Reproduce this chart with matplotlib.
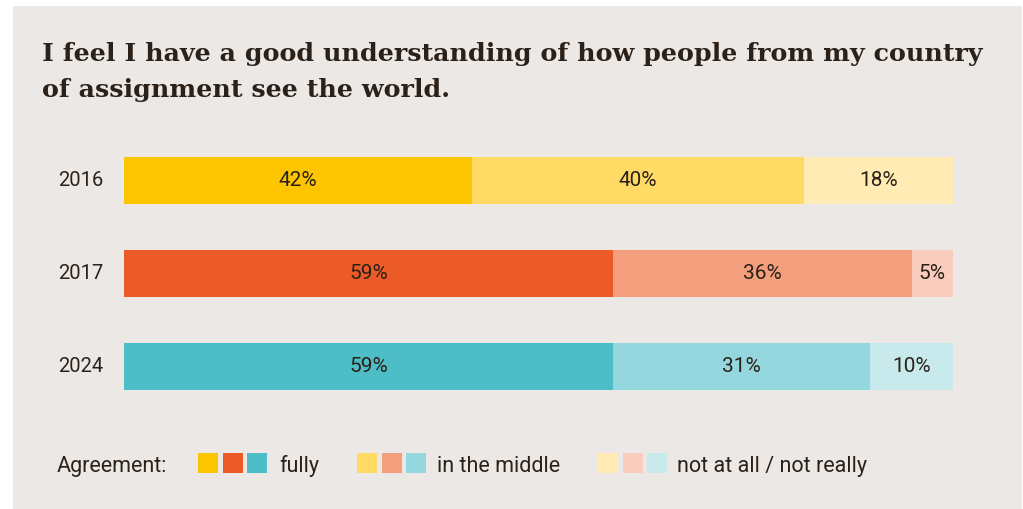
import matplotlib
matplotlib.use("Agg")
from matplotlib import pyplot as plt
from matplotlib.patches import Rectangle

years = ["2016", "2017", "2024"]
fully = [42, 59, 59]
middle = [40, 36, 31]
not_really = [18, 5, 10]
labels = ["fully", "in the middle", "not at all / not really"]

# colours per year: strong, medium, light
colors_fully = ["#FDC500", "#EC5B27", "#4DBEC7"]
colors_middle = ["#FFDB66", "#F39E7D", "#95D7DE"]
colors_not = ["#FFEBB3", "#F8CDBE", "#C8EAEC"]

W, H = 1023, 509
bg = "#ECE8E5"
txt = "#2B2118"

plt.rcParams["font.family"] = ["Roboto", "DejaVu Sans"]

fig = plt.figure(figsize=(W / 100, H / 100), dpi=100)
fig.patch.set_facecolor("white")

def fx(px):
    return px / W

def fy(py):
    return 1 - py / H

# beige panel
fig.patches.append(Rectangle((fx(13), 0), fx(1022) - fx(13), fy(6), transform=fig.transFigure,
                             facecolor=bg, edgecolor="none", zorder=-5))

# title
fig.text(fx(42), fy(61), "I feel I have a good understanding of how people from my country",
         fontsize=18.3, fontweight="bold", family="DejaVu Serif", color=txt, va="baseline")
fig.text(fx(42), fy(97), "of assignment see the world.",
         fontsize=18.3, fontweight="bold", family="DejaVu Serif", color=txt, va="baseline")

# bars
ax = fig.add_axes([fx(124), fy(390), fx(953) - fx(124), fy(157) - fy(390)])
ax.set_facecolor("none")
ax.set_zorder(2)
h = 47 / 93
pad = h / 2
ypos = list(range(len(years)))
ax.barh(ypos, fully, height=h, color=colors_fully)
ax.barh(ypos, middle, left=fully, height=h, color=colors_middle)
left3 = [a + b for a, b in zip(fully, middle)]
ax.barh(ypos, not_really, left=left3, height=h, color=colors_not)
ax.set_xlim(0, 100)
ax.set_ylim(len(years) - 1 + pad, -pad)
ax.axis("off")

for i in ypos:
    starts = [0, fully[i], left3[i]]
    vals = [fully[i], middle[i], not_really[i]]
    for s, v in zip(starts, vals):
        ax.text(s + v / 2, i, f"{v}%", ha="center", va="center", fontsize=15, color=txt)
    ax.text(-2.5, i, years[i], ha="right", va="center", fontsize=14.5, color=txt, clip_on=False)

# legend
ly = 472
fig.text(fx(57), fy(ly), "Agreement:", fontsize=15.5, color=txt, va="baseline")
groups = [(198, colors_fully, 279), (357, colors_middle, 437), (598, colors_not, 677)]
for (x0, cols, tx), lab in zip(groups, labels):
    for k, c in enumerate(cols):
        fig.patches.append(Rectangle((fx(x0 + k * 24.5), fy(473)), fx(20), 20 / H,
                                     transform=fig.transFigure, facecolor=c, edgecolor="none"))
    fig.text(fx(tx), fy(ly), lab, fontsize=15.5, color=txt, va="baseline")

fig.savefig("out.png", dpi=100, facecolor=fig.get_facecolor())
